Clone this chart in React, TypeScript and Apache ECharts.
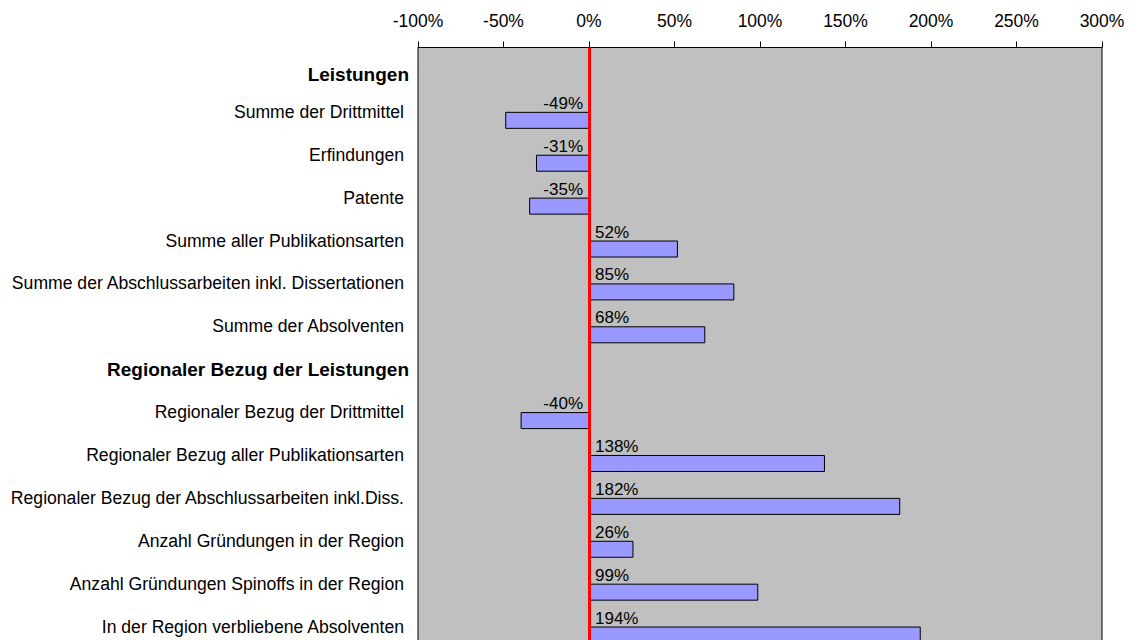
import React, { useEffect, useRef } from "react";
import * as echarts from "echarts";

const categories = [
  "Leistungen",
  "Summe der Drittmittel",
  "Erfindungen",
  "Patente",
  "Summe aller Publikationsarten",
  "Summe der Abschlussarbeiten inkl. Dissertationen",
  "Summe der Absolventen",
  "Regionaler Bezug der Leistungen",
  "Regionaler Bezug der Drittmittel",
  "Regionaler Bezug aller Publikationsarten",
  "Regionaler Bezug der Abschlussarbeiten inkl.Diss.",
  "Anzahl Gründungen in der Region",
  "Anzahl Gründungen Spinoffs in der Region",
  "In der Region verbliebene Absolventen",
];

const headers = ["Leistungen", "Regionaler Bezug der Leistungen"];

const changePct: (number | null)[] = [
  null, -49, -31, -35, 52, 85, 68, null, -40, 138, 182, 26, 99, 194,
];

const axisMin = -100;
const axisMax = 300;
const axisStep = 50;

const FONT = "'Liberation Sans', Arial, sans-serif";

export default function App() {
  const ref = useRef<HTMLDivElement>(null);

  useEffect(() => {
    if (!ref.current) return;
    const chart = echarts.init(ref.current, undefined, { renderer: "svg" });

    const posLabel = {
      show: true,
      position: [6, 0],
      align: "left",
      verticalAlign: "bottom",
      formatter: (p: any) => `${p.value}%`,
    };
    const negLabel = {
      show: true,
      position: ["100%", 0],
      offset: [-6, 0],
      align: "right",
      verticalAlign: "bottom",
      formatter: (p: any) => `${p.value}%`,
    };

    const barData = changePct.map((v) =>
      v == null ? "-" : { value: v, label: v < 0 ? negLabel : posLabel }
    );

    chart.setOption({
      animation: false,
      backgroundColor: "#ffffff",
      textStyle: { fontFamily: FONT, color: "#000" },
      grid: {
        left: 418,
        right: 36,
        top: 47.5,
        bottom: 0,
        show: true,
        backgroundColor: "#C0C0C0",
        borderColor: "#000",
        borderWidth: 1,
        containLabel: false,
      },
      xAxis: {
        type: "value",
        position: "top",
        min: axisMin,
        max: axisMax,
        interval: axisStep,
        axisLine: { show: true, lineStyle: { color: "#000", width: 1 } },
        axisTick: { show: true, length: 6, lineStyle: { color: "#000" } },
        splitLine: { show: false },
        axisLabel: {
          margin: 18,
          color: "#000",
          fontFamily: FONT,
          fontSize: 17.5,
          formatter: "{value}%",
        },
      },
      yAxis: {
        type: "category",
        inverse: true,
        data: categories,
        axisLine: { show: false },
        axisTick: { show: false },
        splitLine: { show: false },
        axisLabel: {
          margin: 9,
          color: "#000",
          fontFamily: FONT,
          fontSize: 17.5,
          formatter: (v: string) => {
            if (v === headers[0]) return `{h0|${v}}`;
            if (headers.includes(v)) return `{h|${v}}`;
            return `{n|${v}}`;
          },
          rich: {
            n: { fontFamily: FONT, fontSize: 17.6, color: "#000", padding: [0, 5, 0, 0] },
            h: { fontFamily: FONT, fontSize: 19, fontWeight: "bold", color: "#000" },
            h0: {
              fontFamily: FONT,
              fontSize: 19,
              fontWeight: "bold",
              color: "#000",
              padding: [12, 0, 0, 0],
            },
          },
        },
      },
      series: [
        {
          name: "spacer",
          type: "bar",
          barWidth: 17,
          barGap: "0%",
          data: changePct.map(() => "-"),
          silent: true,
        },
        {
          name: "Veränderung",
          type: "bar",
          barWidth: 17,
          barGap: "0%",
          data: barData,
          itemStyle: { color: "#9999FF", borderColor: "#000", borderWidth: 1 },
          label: {
            fontFamily: FONT,
            fontSize: 17,
            color: "#000",
          },
          markLine: {
            silent: true,
            symbol: ["none", "none"],
            label: { show: false },
            lineStyle: { color: "#FF0000", width: 3, type: "solid" },
            data: [{ xAxis: 0 }],
          },
        },
      ],
    });

    return () => chart.dispose();
  }, []);

  return (
    <div
      ref={ref}
      style={{ position: "fixed", left: 0, top: 0, width: 1138, height: 648 }}
    />
  );
}
